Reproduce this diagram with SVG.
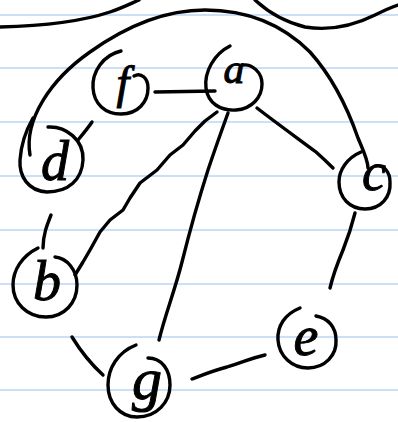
<svg xmlns="http://www.w3.org/2000/svg" width="398" height="422" viewBox="0 0 398 422">
  <style>
    .rule { stroke: #cbdff8; stroke-width: 2; }
    .ink { fill: none; stroke: #000; stroke-width: 3.4; stroke-linecap: round; stroke-linejoin: round; }
    .lbl { font-family: "Liberation Serif", "DejaVu Serif", serif; font-style: italic; fill: #000; stroke: #000; stroke-width: 1; text-anchor: middle; }
  </style>
  <rect width="398" height="422" fill="#fff"/>
  <g id="paper">
    <line class="rule" x1="0" y1="15" x2="398" y2="15"/>
    <line class="rule" x1="0" y1="68" x2="398" y2="68"/>
    <line class="rule" x1="0" y1="122" x2="398" y2="122"/>
    <line class="rule" x1="0" y1="176" x2="398" y2="176"/>
    <line class="rule" x1="0" y1="230" x2="398" y2="230"/>
    <line class="rule" x1="0" y1="284" x2="398" y2="284"/>
    <line class="rule" x1="0" y1="337" x2="398" y2="337"/>
    <line class="rule" x1="0" y1="390" x2="398" y2="390"/>
    <path class="ink" d="M0,27 C40,26 80,22 110,12 C122,8 132,3 139,0"/>
    <path class="ink" d="M255,0 C268,12 285,22 305,27 C330,31 355,25 375,15 C385,10 392,7 398,5"/>
  </g>
  <g id="connectors">
    <path class="ink" d="M30,155 C24,120 50,80 90,52 C125,27 165,10 205,10 C250,10 285,27 310,52 C335,80 350,115 358,138 C363,150 368,160 368,168"/>
    <path class="ink" d="M155,92 L215,91"/>
    <path class="ink" d="M78,140 C83,134 88,128 92,122"/>
    <path class="ink" d="M257,108 C275,122 300,140 316,152 C325,160 330,165 333,168"/>
    <path class="ink" d="M217,112 L205,121 L195,131 L183,145 L170,155 L157,170 L140,183 L130,198 L123,210 L110,220 L100,232 L90,250 L83,262 L75,275"/>
    <path class="ink" d="M228,113 C220,135 213,155 208,170 C200,195 190,230 182,262 C175,290 165,315 159,340"/>
    <path class="ink" d="M51,215 C47,225 43,235 43,248"/>
    <path class="ink" d="M72,337 C80,350 92,365 103,375"/>
    <path class="ink" d="M192,379 C205,374 215,370 227,367 C240,363 252,358 265,355"/>
    <path class="ink" d="M355,213 C352,225 347,240 343,250 C338,262 333,275 330,288"/>
  </g>
  <g id="node-f">
    <path class="ink" d="M121,51 C103,55 92,72 93,88 C94,104 105,114 121,114 C138,114 148,102 148,88 C148,78 141,72 134,76"/>
    <text class="lbl" x="123" y="98" font-size="46">f</text>
  </g>
  <g id="node-a">
    <path class="ink" d="M230,46 C214,54 204,72 206,88 C208,103 220,111 236,110 C252,109 262,97 262,84 C262,72 252,64 243,65"/>
    <text class="lbl" x="234" y="83" font-size="42">a</text>
  </g>
  <g id="node-d">
    <path class="ink" d="M48,127 C66,126 84,140 83,160 C82,180 68,192 47,192 C28,191 19,176 20,160 C21,145 25,132 33,118"/>
    <text class="lbl" x="55" y="180" font-size="56">d</text>
  </g>
  <g id="node-c">
    <path class="ink" d="M361,152 C347,158 339,170 339,182 C339,198 350,209 365,209 C381,209 391,197 390,182 C390,172 384,165 376,166"/>
    <text class="lbl" x="374" y="190" font-size="54">c</text>
  </g>
  <g id="node-b">
    <path class="ink" d="M38,248 C22,256 13,270 13,285 C13,303 27,317 46,317 C64,317 77,303 77,285 C77,270 67,258 55,257"/>
    <text class="lbl" x="47" y="300" font-size="56">b</text>
  </g>
  <g id="node-g">
    <path class="ink" d="M136,345 C118,352 108,368 108,385 C108,403 120,417 137,417 C157,417 170,402 170,385 C170,370 162,358 148,358"/>
    <text class="lbl" x="147" y="399" font-size="60">g</text>
  </g>
  <g id="node-e">
    <path class="ink" d="M300,308 C285,314 277,326 278,340 C279,356 292,368 308,368 C325,368 337,355 336,340 C336,327 328,318 316,316"/>
    <text class="lbl" x="306" y="355" font-size="56">e</text>
  </g>
</svg>
